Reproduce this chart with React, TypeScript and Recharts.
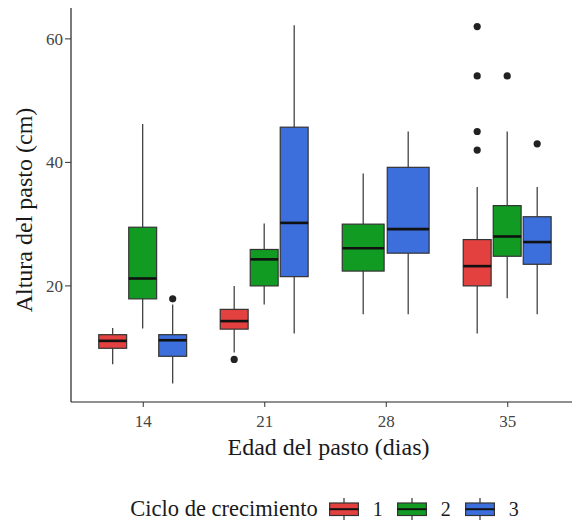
import React from "react";
import { ComposedChart, Bar, XAxis, YAxis, Legend } from "recharts";

const FONT = "'Liberation Serif', 'DejaVu Serif', serif";

const ages = ["14", "21", "28", "35"];
const cycles = ["1", "2", "3"];
const colors = ["#E2413F", "#129B22", "#3C6EDC"];

// ciclo 1 (sin datos a los 28 dias)
const c1Low = [7.3, 9.2, null, 12.3];
const c1Q1 = [9.9, 13.0, null, 20.0];
const c1Med = [11.1, 14.3, null, 23.2];
const c1Q3 = [12.1, 16.2, null, 27.5];
const c1High = [13.2, 20.0, null, 36.0];
const c1Out = [[], [8.1], [], [62, 54, 45, 42]];

// ciclo 2
const c2Low = [13.1, 17.0, 15.4, 18.0];
const c2Q1 = [17.9, 20.0, 22.4, 24.8];
const c2Med = [21.2, 24.3, 26.1, 28.0];
const c2Q3 = [29.5, 25.9, 30.0, 33.0];
const c2High = [46.2, 30.1, 38.2, 45.0];
const c2Out = [[], [], [], [54]];

// ciclo 3
const c3Low = [4.2, 12.3, 15.4, 15.4];
const c3Q1 = [8.6, 21.5, 25.3, 23.5];
const c3Med = [11.2, 30.2, 29.2, 27.1];
const c3Q3 = [12.1, 45.7, 39.2, 31.2];
const c3High = [17.0, 62.2, 45.0, 36.0];
const c3Out = [[17.9], [], [], [43]];

const yTicks = [20, 40, 60];

const stats = [
  { low: c1Low, q1: c1Q1, med: c1Med, q3: c1Q3, high: c1High, out: c1Out },
  { low: c2Low, q1: c2Q1, med: c2Med, q3: c2Q3, high: c2High, out: c2Out },
  { low: c3Low, q1: c3Q1, med: c3Med, q3: c3Q3, high: c3High, out: c3Out },
];

const rows = ages.map((age, i) => {
  const row: any = { age };
  stats.forEach((s, g) => {
    if (s.med[i] == null) {
      row["c" + g] = null;
      row["s" + g] = null;
      return;
    }
    const all = [s.low[i], s.high[i], ...s.out[i]] as number[];
    row["c" + g] = [Math.min(...all), Math.max(...all)];
    row["s" + g] = { low: s.low[i], q1: s.q1[i], med: s.med[i], q3: s.q3[i], high: s.high[i], out: s.out[i] };
  });
  return row;
});

const makeBoxShape = (g: number) => (props: any) => {
  const { x, y, width, height, payload } = props;
  const st = payload && payload["s" + g];
  if (!st || height == null || isNaN(y)) return null;
  const [lo, hi] = payload["c" + g];
  const py = (v: number) => y + ((hi - v) / (hi - lo)) * height;

  // dodge like ggplot: boxes present in this category share the group width
  const present = [0, 1, 2].filter((k) => payload["s" + k]);
  const n = present.length;
  const k = present.indexOf(g);
  const catCenter = x + width / 2 - (g - 1) * width;
  const W = (3 * width) / n;
  const cx = catCenter - 1.5 * width + (k + 0.5) * W;
  const bw = W * 0.93;

  return (
    <g>
      <line x1={cx} x2={cx} y1={py(st.low)} y2={py(st.q1)} stroke="#333" strokeWidth={1.2} />
      <line x1={cx} x2={cx} y1={py(st.q3)} y2={py(st.high)} stroke="#333" strokeWidth={1.2} />
      <rect x={cx - bw / 2} y={py(st.q3)} width={bw} height={py(st.q1) - py(st.q3)} fill={colors[g]} stroke="#333" strokeWidth={1.2} />
      <line x1={cx - bw / 2} x2={cx + bw / 2} y1={py(st.med)} y2={py(st.med)} stroke="#111" strokeWidth={2.6} />
      {st.out.map((v: number, j: number) => (
        <circle key={j} cx={cx} cy={py(v)} r={3.6} fill="#222" />
      ))}
    </g>
  );
};

const LegendContent = () => (
  <div style={{ display: "flex", alignItems: "center", justifyContent: "center", height: 40, fontFamily: FONT, color: "#1a1a1a" }}>
    <span style={{ fontSize: 22.5 }}>Ciclo de crecimiento</span>
    {cycles.map((c, g) => (
      <React.Fragment key={c}>
        <svg width={30} height={22} style={{ marginLeft: g === 0 ? 11 : 12 }}>
          <line x1={15} x2={15} y1={0} y2={22} stroke="#333" strokeWidth={1.2} />
          <rect x={0.6} y={5} width={28.8} height={12.5} fill={colors[g]} stroke="#333" strokeWidth={1.2} />
          <line x1={0.6} x2={29.4} y1={11.2} y2={11.2} stroke="#111" strokeWidth={2} />
        </svg>
        <span style={{ fontSize: 20, marginLeft: 14, width: 12 }}>{c}</span>
      </React.Fragment>
    ))}
  </div>
);

export default function App() {
  return (
    <div style={{ width: 572, height: 529, overflow: "hidden", position: "relative", background: "#fff", fontFamily: FONT }}>
      <style>{"body{margin:0}"}</style>
      <ComposedChart
        width={580}
        height={529}
        data={rows}
        margin={{ top: 8, right: 0, bottom: 0, left: 0 }}
        barGap={0}
        barCategoryGap="12.5%"
      >
        <XAxis
          dataKey="age"
          padding={{ left: 11.5, right: 11.5 }}
          height={87}
          tickSize={5}
          tickMargin={8}
          axisLine={{ stroke: "#222", strokeWidth: 1.2 }}
          tickLine={{ stroke: "#333" }}
          tick={{ fill: "#444", fontSize: 17, fontFamily: FONT }}
          label={{
            content: ({ viewBox }: any) => (
              <text x={viewBox.x + viewBox.width / 2 + 3} y={viewBox.y + 53} textAnchor="middle" fill="#1a1a1a" fontSize={24} fontFamily={FONT}>
                Edad del pasto (dias)
              </text>
            ),
          }}
        />
        <YAxis
          width={71}
          domain={[1.2, 65]}
          ticks={yTicks}
          allowDataOverflow
          tickSize={6}
          tickMargin={2}
          axisLine={{ stroke: "#222", strokeWidth: 1.2 }}
          tickLine={{ stroke: "#333" }}
          tick={{ fill: "#444", fontSize: 17, fontFamily: FONT }}
          label={{
            content: ({ viewBox }: any) => {
              const cx = 32;
              const cy = viewBox.y + viewBox.height / 2 + 5;
              return (
                <text x={cx} y={cy} transform={`rotate(-90 ${cx} ${cy})`} textAnchor="middle" fill="#1a1a1a" fontSize={24} fontFamily={FONT}>
                  Altura del pasto (cm)
                </text>
              );
            },
          }}
        />
        {cycles.map((c, g) => (
          <Bar key={c} dataKey={"c" + g} isAnimationActive={false} shape={makeBoxShape(g)} />
        ))}
        <Legend verticalAlign="bottom" height={40} content={LegendContent} wrapperStyle={{ left: 71, width: 509, height: 40 }} />
      </ComposedChart>
    </div>
  );
}
